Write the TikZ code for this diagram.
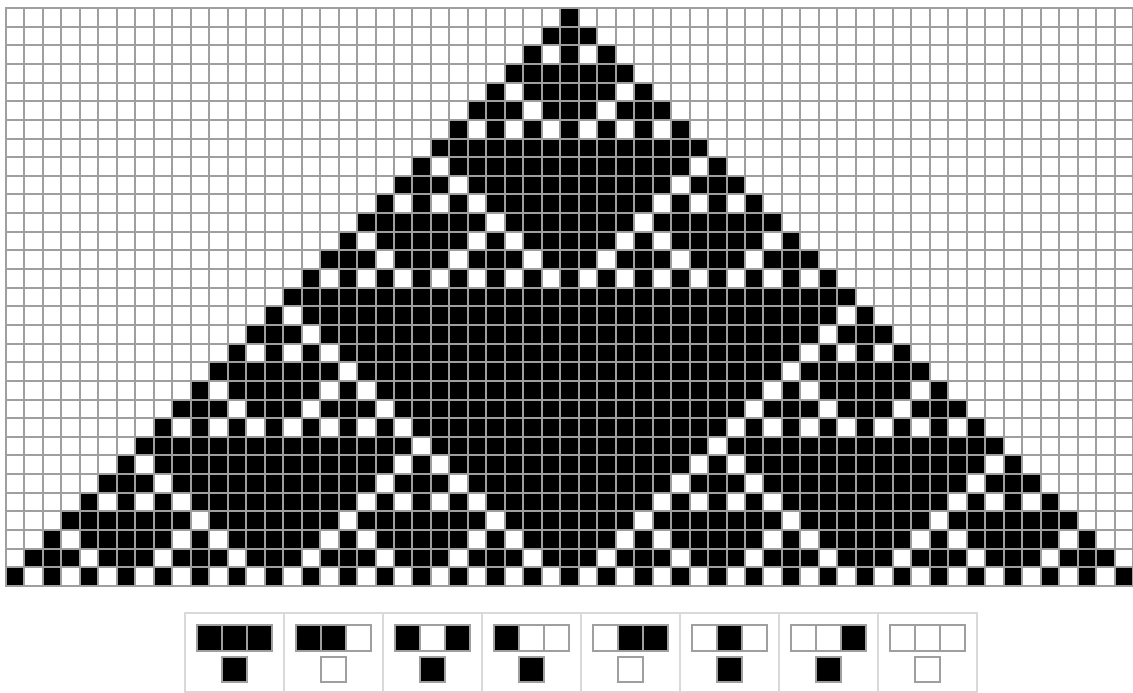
\documentclass[tikz,border=0pt]{standalone}
\usepackage{tikz}

\newcommand*{\lastcol}{60}
\newcommand*{\midcol}{30}
\newcommand*{\lastrow}{30}
\newcommand*{\cellw}{18.475}
\newcommand*{\cellh}{18.645}

% rule 182: output bit for neighbourhood index 0..7
\newcommand*{\rulebit}[1]{\ifcase#1 0\or 1\or 1\or 0\or 1\or 1\or 0\or 1\fi}
\newcommand*{\getcell}[2]{\ifcsname ca-#1-#2\endcsname\csname ca-#1-#2\endcsname\else 0\fi}

% first row: one live cell in the middle
\foreach \c in {0,...,\lastcol} {
	\expandafter\xdef\csname ca-0-\c\endcsname{\ifnum\c=\midcol\space 1\else 0\fi}
}
% following rows
\foreach \r in {1,...,\lastrow} {
	\pgfmathtruncatemacro\prevrow{\r-1}
	\foreach \c in {0,...,\lastcol} {
		\pgfmathtruncatemacro\cleft{\c-1}
		\pgfmathtruncatemacro\cright{\c+1}
		\edef\idx{\the\numexpr 4*\getcell{\prevrow}{\cleft}+2*\getcell{\prevrow}{\c}+\getcell{\prevrow}{\cright}\relax}
		\expandafter\xdef\csname ca-\r-\c\endcsname{\rulebit{\idx}}
	}
}

\begin{document}
\begin{tikzpicture}
[
	x=1pt,
	y=-1pt,
	gridline/.style={draw=gray!75,line width=2pt},
	legbox/.style={draw=gray!30,line width=1.6pt},
	cell0/.style={fill=white,draw=gray!75,line width=2pt},
	cell1/.style={fill=black,draw=gray!75,line width=2pt}
]
	\useasboundingbox[fill=white] (0,0) rectangle (1133,693);

	% live cells
	\foreach \r in {0,...,\lastrow} {
		\foreach \c in {0,...,\lastcol} {
			\ifnum\getcell{\r}{\c}=1
				\fill (6+\c*\cellw,8+\r*\cellh) rectangle ++(\cellw,\cellh);
			\fi
		}
	}

	% grid
	\foreach \c in {0,...,61} {
		\draw[gridline] (6+\c*\cellw,8) -- (6+\c*\cellw,586);
	}
	\foreach \r in {0,...,31} {
		\draw[gridline] (5,8+\r*\cellh) -- (1134,8+\r*\cellh);
	}

	% rule legend
	\foreach \i in {0,...,7} {
		\pgfmathtruncatemacro\n{7-\i}
		\pgfmathtruncatemacro\bl{int(\n/4)}
		\pgfmathtruncatemacro\bc{mod(int(\n/2),2)}
		\pgfmathtruncatemacro\br{mod(\n,2)}
		\edef\bo{\rulebit{\n}}
		\draw[legbox] (185+\i*99,613) rectangle ++(99,79);
		\path[cell\bl] (197+\i*99,625) rectangle ++(25,26);
		\path[cell\bc] (222+\i*99,625) rectangle ++(25,26);
		\path[cell\br] (247+\i*99,625) rectangle ++(25,26);
		\path[cell\bo] (222+\i*99,657) rectangle ++(25,25);
	}

\end{tikzpicture}
\end{document}
